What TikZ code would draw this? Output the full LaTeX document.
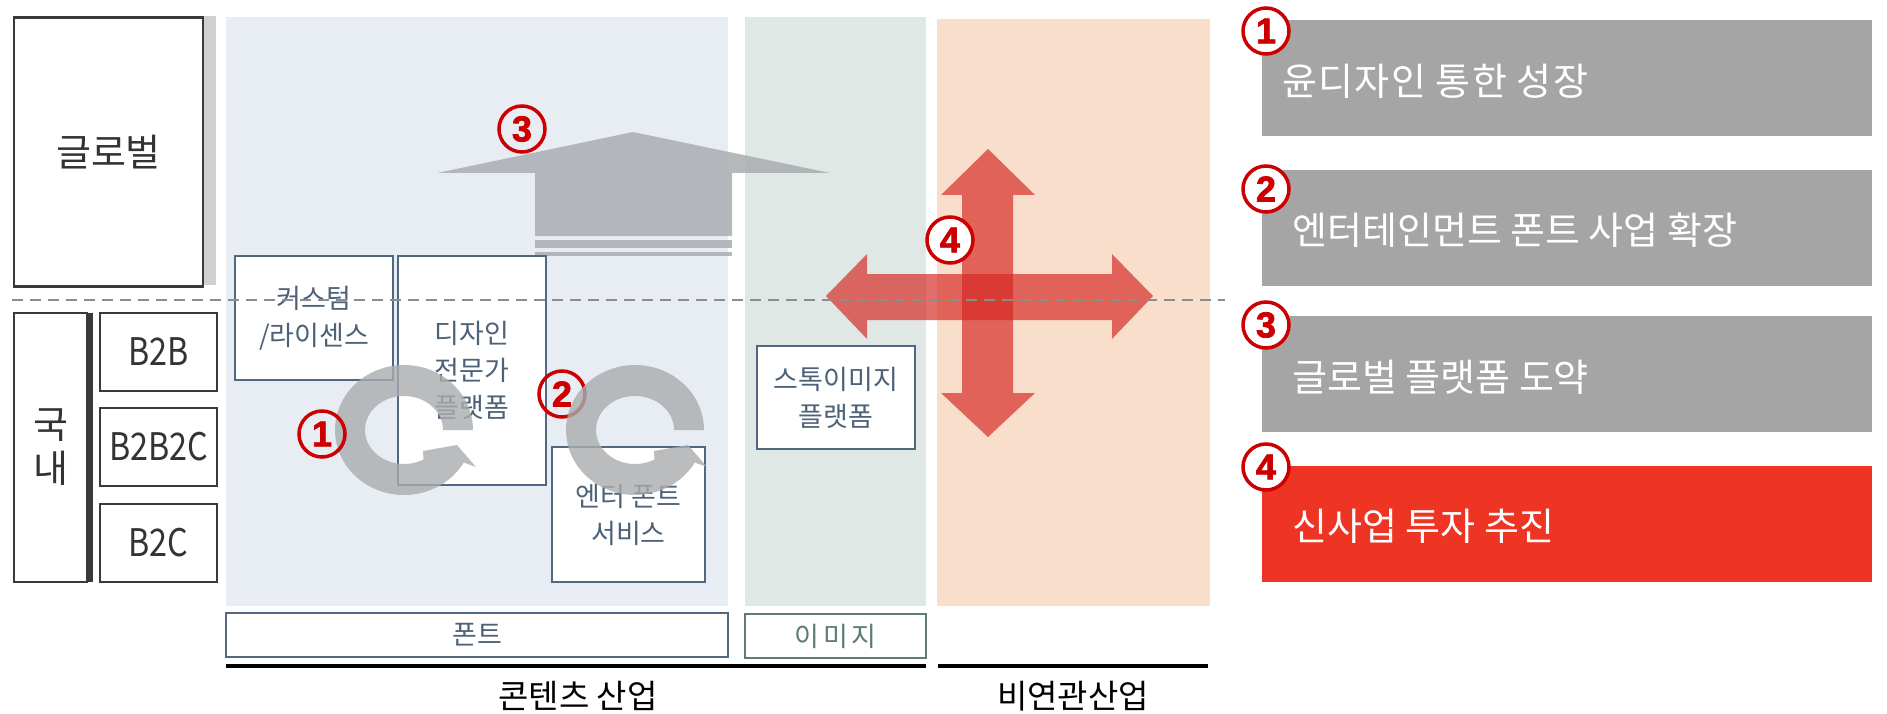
\documentclass[tikz,border=0pt]{standalone}
\usepackage{fontspec}
\setmainfont{Noto Sans CJK KR}
\newfontfamily\numfont{Liberation Sans}[UprightFont={* Bold}, FakeBold=2]
\newfontfamily\narrowfont{Noto Sans CJK KR}[FakeStretch=0.85]
\definecolor{bluebg}{RGB}{232,237,244}
\definecolor{greenbg}{RGB}{223,232,228}
\definecolor{orangebg}{RGB}{248,222,203}
\definecolor{slate}{RGB}{80,104,130}
\definecolor{slatetext}{RGB}{77,97,120}
\definecolor{greenline}{RGB}{92,126,110}
\definecolor{darkline}{RGB}{58,58,58}
\definecolor{boxgray}{RGB}{165,165,165}
\definecolor{boxred}{RGB}{238,53,36}
\definecolor{circred}{RGB}{204,0,0}
\definecolor{arrowgray}{RGB}{170,173,176}
\definecolor{ringgray}{RGB}{170,172,174}
\definecolor{crossred}{RGB}{215,40,35}
\definecolor{dashgray}{RGB}{140,140,140}
\definecolor{barlight}{RGB}{208,208,208}
\begin{document}
\begin{tikzpicture}[x=1pt,y=-1pt,
  blackbox/.style={draw=darkline, line width=2.5pt, fill=white, inner sep=0pt, text=black!80},
  slatebox/.style={draw=slate, line width=2pt, fill=white, inner sep=0pt, text=slatetext, font=\fontsize{27}{37}\selectfont, align=center},
  greenbox/.style={draw=greenline, line width=2pt, fill=white, inner sep=0pt, text=greenline, font=\addfontfeature{LetterSpace=14}\fontsize{27}{27}\selectfont},
  rightbox/.style={minimum width=610pt, minimum height=116pt, inner sep=0pt},
  rtext/.style={anchor=west, text=white, inner sep=0pt, font=\fontsize{38}{38}\selectfont},
  num/.style={circle, draw=circred, line width=3.5pt, minimum size=46pt, inner sep=0pt, text=circred, font=\numfont\fontsize{36}{36}\selectfont},
  ringfill/.style={fill=ringgray, fill opacity=0.8},
  upfill/.style={fill=arrowgray, fill opacity=0.85},
  crossfill/.style={fill=crossred, fill opacity=0.68},
  bottomlabel/.style={inner sep=0pt, text=black, font=\fontsize{33}{33}\selectfont}
]
\useasboundingbox (0,0) rectangle (1887,714);
\fill[white] (0,0) rectangle (1887,714);

% background regions
\fill[bluebg] (226,17) rectangle (728,606);
\fill[greenbg] (745,17) rectangle (926,606);
\fill[orangebg] (937,19) rectangle (1210,606);

% left column
\fill[barlight] (203,16) rectangle (216,285);
\node[blackbox, minimum width=189pt, minimum height=269pt, font=\fontsize{38}{38}\selectfont] (global) at (108.5,152) {글로벌};
\node[blackbox, minimum width=73pt, minimum height=269pt, align=center, font=\fontsize{38}{44}\selectfont] (domestic) at (50.5,447.5) {국\\내};
\fill[darkline] (87,313) rectangle (93,582);
\node[blackbox, minimum width=117pt, minimum height=78pt, font=\narrowfont\fontsize{38}{38}\selectfont] (b2b) at (158.5,352) {B2B};
\node[blackbox, minimum width=117pt, minimum height=78pt, font=\narrowfont\fontsize{38}{38}\selectfont] (b2b2c) at (158.5,447) {B2B2C};
\node[blackbox, minimum width=117pt, minimum height=78pt, font=\narrowfont\fontsize{38}{38}\selectfont] (b2c) at (158.5,543) {B2C};

% up arrow (3)
\fill[upfill] (437,173) -- (633,132) -- (830,173) -- (732,173) -- (732,236) -- (535,236) -- (535,173) -- cycle;
\fill[upfill] (535,240) rectangle (732,248);
\fill[upfill] (535,252) rectangle (732,256);

% four-way arrow (4)
\fill[crossfill] (988,149) -- (1035,195) -- (1013,195) -- (1013,393) -- (1035,393) -- (988,437) -- (941,393) -- (962,393) -- (962,195) -- (941,195) -- cycle;
\fill[crossfill] (826,296) -- (867,254) -- (867,274) -- (1112,274) -- (1112,254) -- (1153,296) -- (1112,339) -- (1112,320) -- (867,320) -- (867,339) -- cycle;

% boxes in the content area
\node[slatebox, minimum width=158pt, minimum height=124pt] (custom) at (314,318) {커스텀\\/라이센스};
\node[slatebox, minimum width=148pt, minimum height=229pt] (designer) at (472,370.5) {디자인\\전문가\\플랫폼};
\node[slatebox, minimum width=153pt, minimum height=135pt] (enter) at (628.5,514.5) {엔터 폰트\\서비스};
\node[slatebox, minimum width=158pt, minimum height=103pt] (stock) at (836,397.5) {스톡이미지\\플랫폼};
\node[slatebox, minimum width=502pt, minimum height=44pt] (font) at (477,635) {폰트};
\node[greenbox, minimum width=181pt, minimum height=44pt] (image) at (835.5,636) {이미지};

% underlines and bottom labels
\draw[line width=4pt] (226,666) -- (926,666);
\draw[line width=4pt] (938,666) -- (1208,666);
\node[bottomlabel] (contents) at (578,696) {콘텐츠 산업};
\node[bottomlabel] (unrelated) at (1073,696) {비연관산업};

% circle number 2 (under ring)
\node[num] (n2) at (562,394) {2};

% ring arrows
\begin{scope}[shift={(404,430)}]
\fill[ringfill] plot[domain=30:360,samples=90] ({69*cos(\x)},{65*sin(\x)})
  -- plot[domain=0:300,samples=80] ({39*cos(360-\x)},{34*sin(360-\x)})
  -- (19,21) -- (53,15) -- (72,37) -- cycle;
\end{scope}
\begin{scope}[shift={(635,430)}]
\fill[ringfill] plot[domain=30:360,samples=90] ({69*cos(\x)},{65*sin(\x)})
  -- plot[domain=0:300,samples=80] ({39*cos(360-\x)},{34*sin(360-\x)})
  -- (19,21) -- (53,15) -- (72,37) -- cycle;
\end{scope}

% dashed divider
\draw[dashgray, line width=2pt, dash pattern=on 11pt off 7pt] (12,300) -- (1225,300);

% other circled numbers
\node[num] (n1) at (322,434) {1};
\node[num] (n3) at (522,129) {3};
\node[num, fill=white] (n4) at (950,240) {4};

% right column
\node[rightbox, fill=boxgray] (r1) at (1567,78) {};
\node[rightbox, fill=boxgray] (r2) at (1567,228) {};
\node[rightbox, fill=boxgray] (r3) at (1567,374) {};
\node[rightbox, fill=boxred] (r4) at (1567,524) {};
\node[rtext, font=\addfontfeature{LetterSpace=3.5}\fontsize{38}{38}\selectfont] (t1) at (1282,81) {윤디자인 통한 성장};
\node[rtext] (t2) at (1292,230) {엔터테인먼트 폰트 사업 확장};
\node[rtext] (t3) at (1292,377) {글로벌 플랫폼 도약};
\node[rtext] (t4) at (1292,526) {신사업 투자 추진};
\node[num, fill=white] (rn1) at (1266,31) {1};
\node[num, fill=white] (rn2) at (1266,189) {2};
\node[num, fill=white] (rn3) at (1266,325) {3};
\node[num, fill=white] (rn4) at (1266,467) {4};
\end{tikzpicture}
\end{document}
